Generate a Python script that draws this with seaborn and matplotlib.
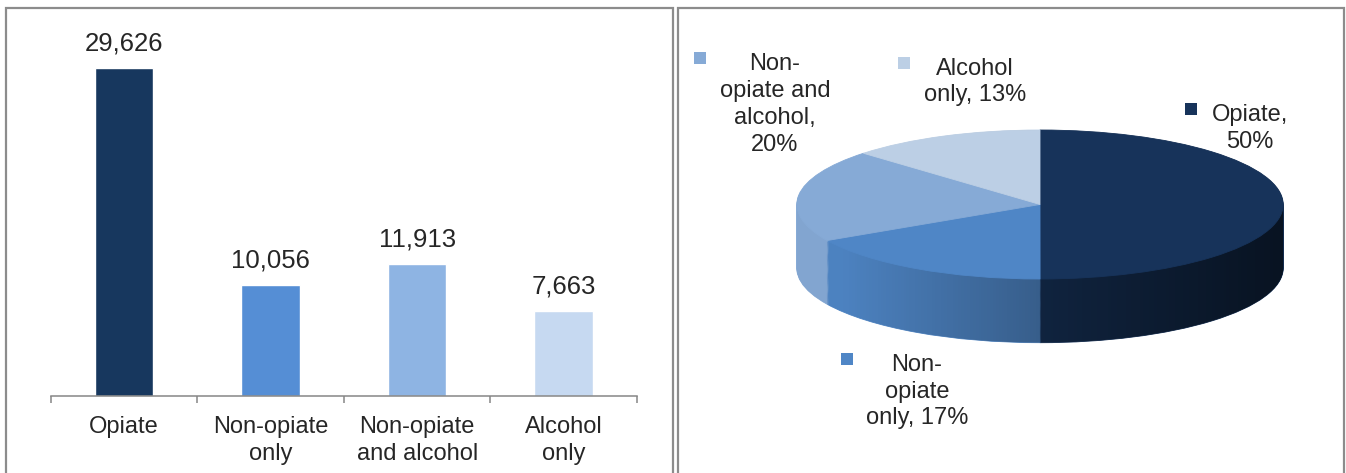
import numpy as np
import matplotlib
matplotlib.use("Agg")
import matplotlib.pyplot as plt
from matplotlib.patches import Rectangle, Polygon
import seaborn as sns

# data
categories = ["Opiate", "Non-opiate only", "Non-opiate and alcohol", "Alcohol only"]
counts = [29626, 10056, 11913, 7663]
tick_labels = ["Opiate", "Non-opiate\nonly", "Non-opiate\nand alcohol", "Alcohol\nonly"]
pie_labels = ["Opiate,\n50%", "Non-\nopiate\nonly, 17%", "Non-\nopiate and\nalcohol,\n20%", "Alcohol\nonly, 13%"]

bar_colors = ["#17375e", "#558ed5", "#8eb4e3", "#c6d9f1"]
pie_colors = ["#17335a", "#4f86c6", "#86aad6", "#bccfe5"]

W, H = 1346, 473


def fx(px):
    return px / W


def fy(py):
    return 1 - py / H


sns.set_style("white")
plt.rcParams['font.family'] = ['Liberation Sans', 'DejaVu Sans']

fig = plt.figure(figsize=(W / 100, H / 100), dpi=100)

# panel frames
for x0, x1 in [(6, 673), (678, 1344)]:
    fig.add_artist(Rectangle((fx(x0), -0.05), (x1 - x0) / W, (H - 8.5) / H + 0.05,
                             transform=fig.transFigure, fill=False,
                             edgecolor="#8c8c8c", linewidth=1.6))

# ---- bar chart ----
ax = fig.add_axes([fx(50.7), fy(396), (637 - 50.7) / W, (396 - 8.5) / H])
sns.barplot(x=categories, y=counts, hue=categories, palette=bar_colors,
            width=0.4, saturation=1, legend=False, ax=ax)
ax.set_ylim(0, 35000)
ax.set_xlim(-0.5, 3.5)
for c in ax.containers:
    ax.bar_label(c, labels=[f"{v:,.0f}" for v in c.datavalues], padding=9, fontsize=18.5)

ax.set_xticks(range(len(categories)))
ax.set_xticklabels(tick_labels, fontsize=17, linespacing=1.28)
ax.set_xticks(np.arange(-0.5, len(categories), 1), minor=True)
ax.tick_params(axis='x', which='major', length=0, pad=14.5)
ax.tick_params(axis='x', which='minor', bottom=True, length=5, width=1.1,
               color="#868686", direction='out')
ax.set_yticks([])
ax.set_xlabel('')
ax.set_ylabel('')
for s in ['left', 'top', 'right']:
    ax.spines[s].set_visible(False)
ax.spines['bottom'].set_color("#868686")
ax.spines['bottom'].set_linewidth(1.1)

# ---- 3d-ish pie ----
pax = fig.add_axes([fx(790), fy(345), 500 / W, 217 / H])
depth = 63.7 / 74.5

# stacked layers make the side wall
for off in np.linspace(depth, 0.02, 60):
    wedges, _ = pax.pie(counts, colors=pie_colors, startangle=90, counterclock=False,
                        center=(0, -off), wedgeprops=dict(linewidth=0.6, zorder=1))
    for w in wedges:
        w.set_edgecolor(w.get_facecolor())

# side shading, darker to the right
t = np.linspace(0, np.pi, 200)
verts = np.concatenate([np.column_stack([np.cos(t), np.sin(t)]),
                        np.column_stack([np.cos(t + np.pi), np.sin(t + np.pi) - depth])])
hull = Polygon(verts, closed=True, facecolor='none', edgecolor='none', transform=pax.transData)
pax.add_patch(hull)
xs = np.linspace(-1, 1, 256)
shade = np.zeros((1, 256, 4))
shade[..., 3] = np.clip(0.3 + 0.33 * xs, 0.03, 1)
im = pax.imshow(shade, extent=(-1, 1, -1 - depth, 1), aspect='auto', zorder=2,
                interpolation='bilinear')
im.set_clip_path(hull)

# top face
wedges, _ = pax.pie(counts, colors=pie_colors, startangle=90, counterclock=False,
                    wedgeprops=dict(linewidth=0.6, zorder=3))
for w in wedges:
    w.set_edgecolor(w.get_facecolor())

pax.set_aspect('auto')
pax.set_xlim(-250 / 243.2, 250 / 243.2)
pax.set_ylim(-(345 - 204.5) / 74.5, (204.5 - 128) / 74.5)
pax.axis('off')

# pie labels with keys
label_pos = [(1250, 128.5), (917, 391.5), (775, 104.5), (975, 82)]
key_pos = [(1185, 103), (841, 353), (694, 52), (898, 57)]
for lab, (lx, ly), (kx, ky), col in zip(pie_labels, label_pos, key_pos, pie_colors):
    fig.text(fx(lx), fy(ly), lab, ha='center', va='center', fontsize=17,
             multialignment='center', linespacing=1.28)
    fig.add_artist(Rectangle((fx(kx), fy(ky + 12)), 12 / W, 12 / H,
                             transform=fig.transFigure, facecolor=col, edgecolor='none'))

plt.savefig("out.png", dpi=100)
